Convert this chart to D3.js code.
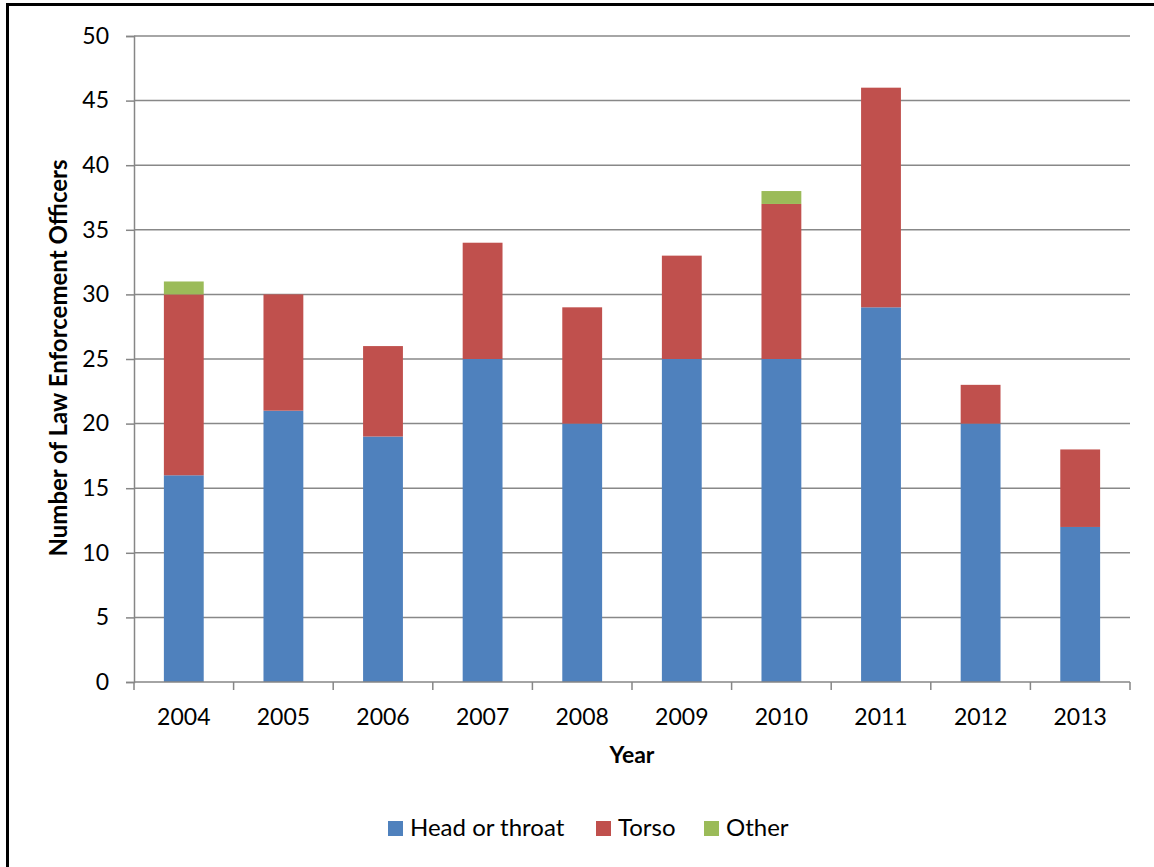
<!DOCTYPE html>
<html><head><meta charset="utf-8">
<script src="https://cdn.jsdelivr.net/npm/d3@7"></script>
<style>body{margin:0;background:#fff}svg{display:block}text{font-family:Lato,"Open Sans",sans-serif;fill:#000}</style>
</head><body>
<svg id="c" width="1154" height="867"></svg>
<script>
const years = ["2004","2005","2006","2007","2008","2009","2010","2011","2012","2013"];
const headOrThroat = [16,21,19,25,20,25,25,29,20,12];
const torso = [14,9,7,9,9,8,12,17,3,6];
const other = [1,0,0,0,0,0,1,0,0,0];
const seriesNames = ["Head or throat","Torso","Other"];
const colors = ["#4F81BD","#C0504D","#9BBB59"];
const yTicks = [0,5,10,15,20,25,30,35,40,45,50];

const svg = d3.select("#c");
svg.append("rect").attr("x",7.5).attr("y",4.5).attr("width",1160).attr("height",880)
  .attr("fill","#fff").attr("stroke","#000").attr("stroke-width",3);

const L=134, R=1130, T=36, B=682;
const x = d3.scaleBand().domain(years).range([L,R]).paddingInner(0.6).paddingOuter(0.3);
const y = d3.scaleLinear().domain([0,50]).range([B,T]);

svg.append("g").selectAll("line").data(yTicks.filter(d=>d>0)).join("line")
  .attr("x1",L).attr("x2",R).attr("y1",d=>y(d)).attr("y2",d=>y(d))
  .attr("stroke","#888").attr("stroke-width",1.5);

const rows = years.map((yr,i)=>({year:yr, "Head or throat":headOrThroat[i], "Torso":torso[i], "Other":other[i]}));
const stack = d3.stack().keys(seriesNames)(rows);
svg.append("g").selectAll("g").data(stack).join("g").attr("fill",(d,i)=>colors[i])
  .selectAll("rect").data(d=>d).join("rect")
  .attr("x",d=>x(d.data.year)).attr("width",x.bandwidth())
  .attr("y",d=>y(d[1])).attr("height",d=>y(d[0])-y(d[1]));

const ya = svg.append("g").attr("transform",`translate(${L},0)`)
  .call(d3.axisLeft(y).tickValues(yTicks).tickSize(8).tickPadding(17));
ya.select(".domain").attr("stroke","#868686").attr("stroke-width",1.5);
ya.selectAll(".tick line").attr("stroke","#868686").attr("stroke-width",1.5);
ya.selectAll("text").style("font-size","23px").attr("fill","#000");

const xa = svg.append("g").attr("transform",`translate(0,${B})`);
xa.append("line").attr("x1",L).attr("x2",R).attr("stroke","#868686").attr("stroke-width",1.5);
const step = x.step();
const bounds = d3.range(years.length+1).map(i=>L+i*step);
xa.selectAll("line.t").data(bounds).join("line").attr("class","t")
  .attr("x1",d=>d).attr("x2",d=>d).attr("y1",0).attr("y2",8).attr("stroke","#868686").attr("stroke-width",1.5);
xa.selectAll("text").data(years).join("text")
  .attr("x",d=>x(d)+x.bandwidth()/2).attr("y",43).attr("text-anchor","middle")
  .style("font-size","23px").text(d=>d);

svg.append("text").attr("x",632).attr("y",763).attr("text-anchor","middle")
  .style("font-size","23px").style("font-weight","bold").text("Year");
svg.append("text").attr("transform","translate(67,358) rotate(-90)").attr("text-anchor","middle")
  .style("font-size","24px").style("font-weight","bold").text("Number of Law Enforcement Officers");

const legX = [388,596,704];
const lg = svg.append("g").selectAll("g").data(seriesNames).join("g")
  .attr("transform",(d,i)=>`translate(${legX[i]},821)`);
lg.append("rect").attr("width",15).attr("height",15).attr("fill",(d,i)=>colors[i]);
lg.append("text").attr("x",22).attr("y",15).style("font-size","24px").text(d=>d);
</script>
</body></html>
